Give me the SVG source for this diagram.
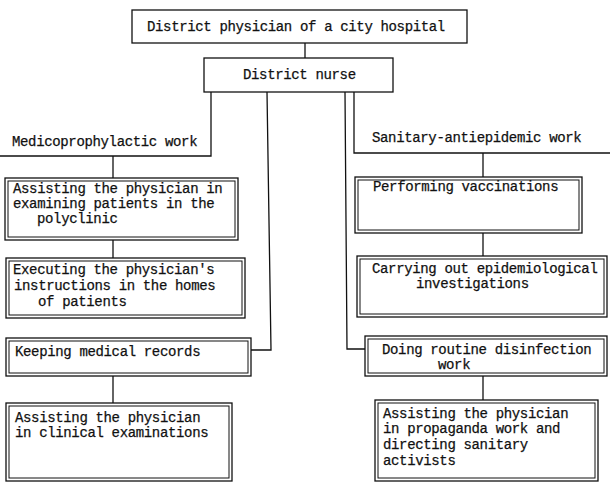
<svg xmlns="http://www.w3.org/2000/svg" width="610" height="482" viewBox="0 0 610 482">
  <style>
    .bg { fill: #ffffff; }
    .box { fill: #ffffff; stroke: #111; stroke-width: 1.3; }
    .inner { fill: none; stroke: #111; stroke-width: 1; }
    .wire { fill: none; stroke: #111; stroke-width: 1.3; }
    text { font-family: "Liberation Mono", "DejaVu Sans Mono", monospace; font-size: 14px; letter-spacing: -0.35px; fill: #111; stroke: #111; stroke-width: 0.25; }
  </style>
  <rect class="bg" x="0" y="0" width="610" height="482"/>

  <!-- connectors -->
  <g id="connectors">
    <path class="wire" d="M305,43 V58"/>
    <!-- left branch: medicoprophylactic work -->
    <path class="wire" d="M211,92 V156 H0"/>
    <path class="wire" d="M113,156 V178"/>
    <path class="wire" d="M113,240 V258"/>
    <path class="wire" d="M267,92 L271,350 H251"/>
    <path class="wire" d="M113,376 V403"/>
    <!-- right branch: sanitary-antiepidemic work -->
    <path class="wire" d="M354,92 V153 H610"/>
    <path class="wire" d="M483,153 V177"/>
    <path class="wire" d="M483,233 V256"/>
    <path class="wire" d="M345,92 L347,349 H365"/>
    <path class="wire" d="M483,376 V400"/>
  </g>

  <g id="physician">
    <rect class="box" x="132" y="10" width="335" height="33"/>
    <text x="147" y="31">District physician of a city hospital</text>
  </g>

  <g id="nurse">
    <rect class="box" x="204" y="58" width="189" height="34"/>
    <text x="243" y="79">District nurse</text>
  </g>

  <g id="medico-label">
    <text x="12" y="146">Medicoprophylactic work</text>
  </g>

  <g id="sanitary-label">
    <text x="372" y="142">Sanitary-antiepidemic work</text>
  </g>

  <g id="polyclinic">
    <rect class="box" x="5" y="178" width="233" height="62"/>
    <rect class="inner" x="8" y="181" width="227" height="56"/>
    <text x="13" y="193">Assisting the physician in</text>
    <text x="13" y="208">examining patients in the</text>
    <text x="37" y="223">polyclinic</text>
  </g>

  <g id="homes">
    <rect class="box" x="6" y="258" width="239" height="60"/>
    <rect class="inner" x="9" y="261" width="233" height="54"/>
    <text x="13" y="274">Executing the physician's</text>
    <text x="14" y="290">instructions in the homes</text>
    <text x="38" y="306">of patients</text>
  </g>

  <g id="records">
    <rect class="box" x="6" y="338" width="245" height="38"/>
    <rect class="inner" x="9" y="341" width="239" height="32"/>
    <text x="15" y="356">Keeping medical records</text>
  </g>

  <g id="clinical">
    <rect class="box" x="6" y="403" width="226" height="78"/>
    <rect class="inner" x="9" y="406" width="220" height="72"/>
    <text x="15" y="422">Assisting the physician</text>
    <text x="15" y="437">in clinical examinations</text>
  </g>

  <g id="vaccinations">
    <rect class="box" x="355" y="177" width="227" height="56"/>
    <rect class="inner" x="358" y="180" width="221" height="50"/>
    <text x="373" y="191">Performing vaccinations</text>
  </g>

  <g id="epidemiology">
    <rect class="box" x="357" y="256" width="250" height="61"/>
    <rect class="inner" x="360" y="259" width="244" height="55"/>
    <text x="372" y="273">Carrying out epidemiological</text>
    <text x="416" y="288">investigations</text>
  </g>

  <g id="disinfection">
    <rect class="box" x="365" y="336" width="242" height="40"/>
    <rect class="inner" x="368" y="339" width="236" height="34"/>
    <text x="382" y="354">Doing routine disinfection</text>
    <text x="438" y="369">work</text>
  </g>

  <g id="propaganda">
    <rect class="box" x="375" y="400" width="223" height="81"/>
    <rect class="inner" x="378" y="403" width="217" height="75"/>
    <text x="383" y="418">Assisting the physician</text>
    <text x="383" y="433">in propaganda work and</text>
    <text x="383" y="449">directing sanitary</text>
    <text x="383" y="465">activists</text>
  </g>
</svg>
